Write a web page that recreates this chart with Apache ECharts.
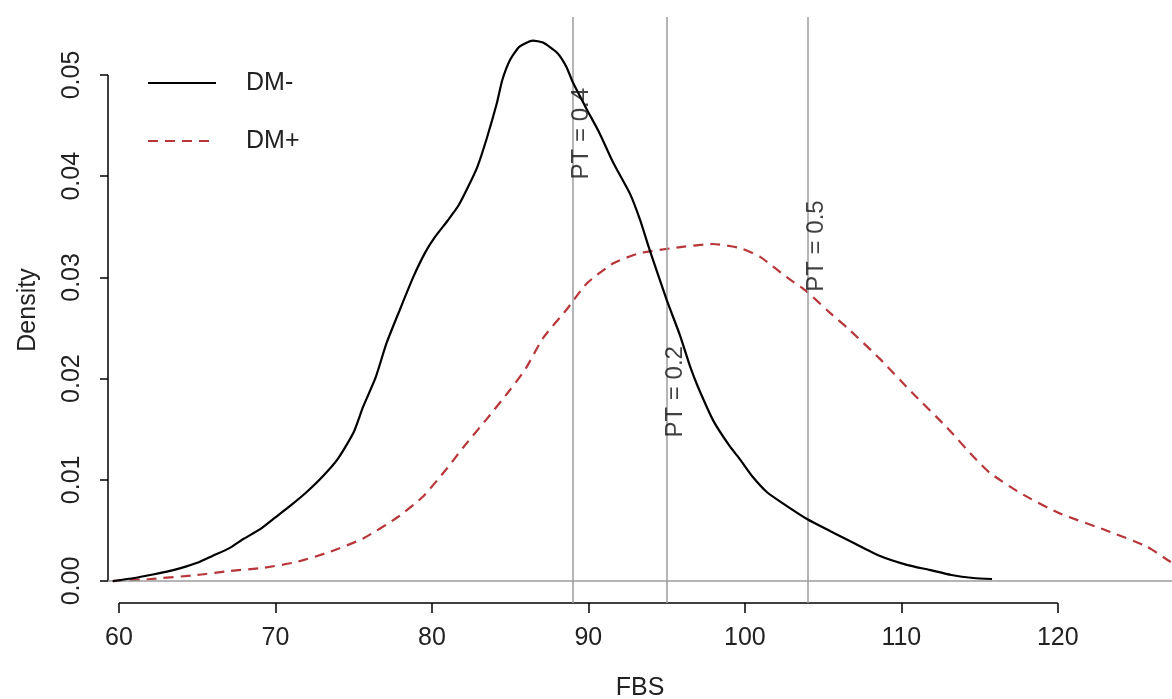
<!DOCTYPE html>
<html>
<head>
<meta charset="utf-8">
<script src="https://cdn.jsdelivr.net/npm/echarts@6/dist/echarts.min.js"></script>
<style>
html,body{margin:0;padding:0;background:#fff;}
#c{width:1172px;height:699px;}
</style>
</head>
<body>
<div id="c"></div>
<script>
// ---- data ----
const dmMinus = [
  [59.6,0.0000],[61,0.0003],[62,0.0006],[63,0.0009],[64,0.0013],[65,0.0018],[66,0.0025],
  [67,0.0032],[68,0.0042],[69,0.0051],[70,0.0063],[71,0.0075],[72,0.0088],[73,0.0103],
  [74,0.0121],[75,0.0147],[75.6,0.0172],[76.4,0.0201],[77.1,0.0235],[77.95,0.0268],
  [78.8,0.0300],[79.55,0.0324],[80.2,0.0340],[81,0.0356],[81.7,0.0371],[82.3,0.0389],
  [82.9,0.0409],[83.5,0.0437],[84.15,0.0472],[84.5,0.0495],[85,0.0515],[85.6,0.0528],
  [86.45,0.0534],[87.1,0.0532],[88,0.0522],[88.6,0.0508],[89,0.0493],[89.9,0.0466],
  [90.7,0.0443],[91.6,0.0413],[92.65,0.0383],[93.3,0.0357],[93.9,0.0328],[95,0.0278],
  [95.85,0.0243],[96.5,0.0212],[97,0.0192],[98,0.0158],[99,0.0134],[99.7,0.0120],
  [100.5,0.0103],[101.4,0.0088],[102.5,0.0076],[104,0.0061],[105.5,0.0049],[106.9,0.0038],
  [108.6,0.0025],[110.35,0.0016],[111.8,0.0011],[113.2,0.0006],[114.6,0.0003],[115.8,0.0002]
];
const dmPlus = [
  [59.6,0.0000],[62,0.0002],[65,0.0006],[67.1,0.0010],[69.2,0.0013],[71.4,0.0019],
  [73.5,0.0029],[75.6,0.0042],[77.8,0.0063],[79.4,0.0083],[81,0.0112],[82,0.0132],
  [83.5,0.0160],[85,0.0189],[86,0.0210],[87.1,0.0240],[88.6,0.0268],[89.9,0.0294],
  [91.6,0.0314],[93.3,0.0324],[95.4,0.0329],[97.95,0.0333],[99.7,0.0329],[101,0.0320],
  [102.7,0.0300],[103.96,0.0286],[105.3,0.0267],[106.7,0.0248],[108.6,0.0220],
  [110.7,0.0186],[112.9,0.0152],[114.6,0.0123],[115.65,0.0107],[117.6,0.0087],
  [120.1,0.0067],[123.1,0.0050],[125.7,0.0034],[127.2,0.0019],[128,0.0013]
];
const xTicks = [60,70,80,90,100,110,120];
const xTickLabels = ['60','70','80','90','100','110','120'];
const yTicks = [0,0.01,0.02,0.03,0.04,0.05];
const yTickLabels = ['0.00','0.01','0.02','0.03','0.04','0.05'];
const ptLines = [89,95,104];
const ptLabels = ['PT = 0.4','PT = 0.2','PT = 0.5'];
const ptLabelY = [0.0442,0.0187,0.0331];
const xRange = [59.3,127.3];
const yRange = [-0.00217,0.05573];

// ---- chart ----
const FONT = '"Liberation Sans", Arial, sans-serif';
const TXT = '#222';
const FS = 25;
const chart = echarts.init(document.getElementById('c'), null, {renderer:'canvas'});
chart.setOption({
  animation:false,
  backgroundColor:'#ffffff',
  textStyle:{fontFamily:FONT},
  grid:{left:108,right:0,top:17,bottom:96,containLabel:false,outerBoundsMode:'none'},
  legend:{
    data:['DM-','DM+'],
    orient:'vertical',left:142,top:65,
    itemWidth:68,itemHeight:14,itemGap:32,
    itemStyle:{opacity:0},
    textStyle:{fontFamily:FONT,fontSize:FS,color:TXT,lineHeight:26,padding:[0,0,0,25]},
    selectedMode:false
  },
  xAxis:{
    type:'value',min:xRange[0],max:xRange[1],
    name:'FBS',nameLocation:'middle',nameGap:73,
    nameTextStyle:{fontFamily:FONT,fontSize:FS,color:TXT},
    axisLine:{show:false,onZero:false},
    splitLine:{show:false},
    axisTick:{show:true,length:10,customValues:xTicks,lineStyle:{color:'#000',width:1.5}},
    axisLabel:{customValues:xTicks,margin:23,fontFamily:FONT,fontSize:FS,color:TXT,
      formatter:v=>xTickLabels[xTicks.indexOf(v)]}
  },
  yAxis:{
    type:'value',min:yRange[0],max:yRange[1],
    name:'Density',nameLocation:'middle',nameGap:67,nameRotate:90,
    nameTextStyle:{fontFamily:FONT,fontSize:FS,color:TXT},
    axisLine:{show:false,onZero:false},
    splitLine:{show:false},
    axisTick:{show:true,length:8,customValues:yTicks,lineStyle:{color:'#000',width:1.5}},
    axisLabel:{customValues:yTicks,margin:23,rotate:90,fontFamily:FONT,fontSize:FS,color:TXT,
      formatter:v=>yTickLabels[yTicks.indexOf(v)]}
  },
  series:[
    {
      name:'ref',type:'line',data:[],silent:true,
      markLine:{
        silent:true,symbol:['none','none'],label:{show:false},
        lineStyle:{color:'#9c9c9c',width:1.5,type:'solid'},
        data:ptLines.map(v=>({xAxis:v})).concat([{yAxis:0}])
      }
    },
    {
      name:'DM-',type:'line',data:dmMinus,showSymbol:false,symbol:'none',smooth:0.2,
      lineStyle:{color:'#000',width:2.2},itemStyle:{color:'#000'},z:5
    },
    {
      name:'DM+',type:'line',data:dmPlus,showSymbol:false,symbol:'none',smooth:0.2,
      lineStyle:{color:'#b8363a',width:2.2,type:[10,7]},itemStyle:{color:'#b8363a'},z:4
    },
    {
      name:'ptlabels',type:'scatter',symbolSize:0,silent:true,
      data:ptLines.map((x,i)=>({value:[x,ptLabelY[i]],name:ptLabels[i]})),
      label:{show:true,position:'inside',rotate:90,offset:[0,9],
        formatter:p=>p.name,fontFamily:FONT,fontSize:24,color:'#111'},
      z:6
    },
    {
      name:'xaxisline',type:'line',clip:false,silent:true,symbol:'none',
      data:[[xTicks[0],yRange[0]],[xTicks[xTicks.length-1],yRange[0]]],
      lineStyle:{color:'#000',width:1.5}
    },
    {
      name:'yaxisline',type:'line',clip:false,silent:true,symbol:'none',
      data:[[xRange[0],yTicks[0]],[xRange[0],yTicks[yTicks.length-1]]],
      lineStyle:{color:'#000',width:1.5}
    }
  ]
});
</script>
</body>
</html>
